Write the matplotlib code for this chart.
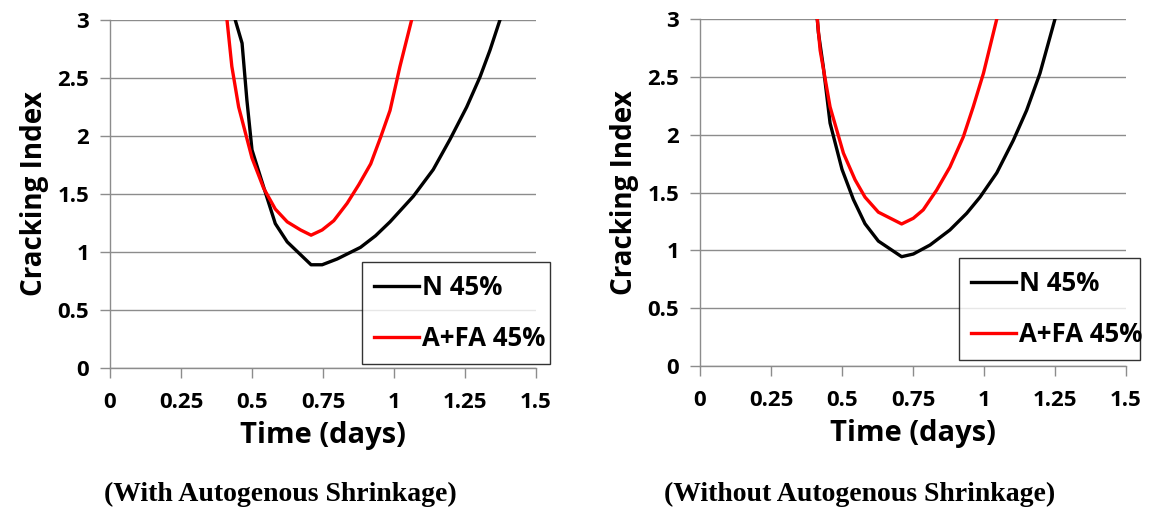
import numpy as np
import matplotlib
matplotlib.use("Agg")
import matplotlib.pyplot as plt

# cracking index vs time
# left panel: with autogenous shrinkage
t_n_with = [0.441, 0.465, 0.482, 0.50, 0.541, 0.582, 0.624, 0.708, 0.747, 0.80, 0.882, 0.935, 0.986, 1.068, 1.138, 1.197, 1.256, 1.303, 1.338, 1.373]
ci_n_with = [3.0, 2.80, 2.31, 1.88, 1.56, 1.245, 1.087, 0.89, 0.89, 0.94, 1.04, 1.14, 1.26, 1.48, 1.71, 1.97, 2.25, 2.51, 2.74, 3.0]
t_a_with = [0.412, 0.429, 0.453, 0.50, 0.541, 0.582, 0.624, 0.671, 0.708, 0.747, 0.788, 0.835, 0.876, 0.918, 0.953, 0.986, 1.021, 1.062]
ci_a_with = [3.0, 2.60, 2.25, 1.81, 1.55, 1.37, 1.26, 1.19, 1.145, 1.19, 1.27, 1.42, 1.58, 1.76, 1.99, 2.22, 2.60, 3.0]

# right panel: without autogenous shrinkage
t_n_wo = [0.413, 0.417, 0.434, 0.458, 0.50, 0.54, 0.581, 0.628, 0.710, 0.751, 0.81, 0.88, 0.939, 0.986, 1.045, 1.103, 1.150, 1.197, 1.25]
ci_n_wo = [3.0, 2.88, 2.59, 2.10, 1.70, 1.44, 1.23, 1.08, 0.945, 0.968, 1.046, 1.176, 1.32, 1.46, 1.67, 1.95, 2.21, 2.53, 3.0]
t_a_wo = [0.413, 0.423, 0.458, 0.505, 0.546, 0.581, 0.628, 0.710, 0.751, 0.786, 0.833, 0.880, 0.927, 0.962, 0.998, 1.045]
ci_a_wo = [3.0, 2.73, 2.24, 1.84, 1.61, 1.46, 1.33, 1.228, 1.277, 1.35, 1.52, 1.72, 1.98, 2.24, 2.53, 3.0]

xticks = [0, 0.25, 0.5, 0.75, 1, 1.25, 1.5]
xtick_labels = ["0", "0.25", "0.5", "0.75", "1", "1.25", "1.5"]
yticks = [0, 0.5, 1, 1.5, 2, 2.5, 3]
ytick_labels = ["0", "0.5", "1", "1.5", "2", "2.5", "3"]
captions = ["With Autogenous Shrinkage", "Without Autogenous Shrinkage"]

sans = ["Open Sans", "DejaVu Sans"]
serif = ["Liberation Serif", "DejaVu Serif"]
plt.rcParams["font.family"] = sans
plt.rcParams["font.weight"] = "bold"
plt.rcParams["axes.labelweight"] = "bold"
plt.rcParams["xtick.labelsize"] = 16
plt.rcParams["ytick.labelsize"] = 16

W, H = 1150, 511
fig = plt.figure(figsize=(W / 100, H / 100), dpi=100)

panels = [
    ((110, 20, 536, 368), t_n_with, ci_n_with, t_a_with, ci_a_with, (362, 257, 550, 364), 280),
    ((700, 19, 1126, 366), t_n_wo, ci_n_wo, t_a_wo, ci_a_wo, (959, 255, 1140, 360), 860),
]

for k, (box, tn, cn, ta, ca, lbox, cx) in enumerate(panels):
    x0, y0, x1, y1 = box
    ax = fig.add_axes([x0 / W, 1 - y1 / H, (x1 - x0) / W, (y1 - y0) / H])
    ax.plot(tn, cn, color="black", lw=2.4, label="N 45%")
    ax.plot(ta, ca, color="#ff0000", lw=2.4, label="A+FA 45%")
    ax.set_xlim(0, 1.5)
    ax.set_ylim(0, 3)
    ax.yaxis.grid(True, color="#8c8c8c", lw=1.0)
    ax.set_axisbelow(True)
    for s in ["top", "right"]:
        ax.spines[s].set_visible(False)
    for s in ["left", "bottom"]:
        ax.spines[s].set_color("#8c8c8c")
        ax.spines[s].set_linewidth(1.0)
    ax.set_xticks(xticks)
    ax.set_xticklabels(xtick_labels)
    ax.set_yticks(yticks)
    ax.set_yticklabels(ytick_labels)
    ax.tick_params(axis="both", direction="out", color="#8c8c8c", length=7, width=1.0, labelsize=16)
    ax.tick_params(axis="x", pad=10)
    ax.tick_params(axis="y", pad=8)
    for lab in ax.get_xticklabels() + ax.get_yticklabels():
        lab.set_fontsize(16)
        lab.set_fontweight("bold")
    ax.set_xlabel("Time (days)", fontsize=21, fontweight="bold", labelpad=6)
    ax.set_ylabel("Cracking Index", fontsize=20, fontweight="bold", labelpad=6)

    lx0, ly0, lx1, ly1 = lbox
    leg = fig.legend(handles=ax.get_lines(), loc="lower left",
                     bbox_to_anchor=(lx0 / W, 1 - ly1 / H, (lx1 - lx0) / W, (ly1 - ly0) / H),
                     mode="expand", frameon=True, fancybox=False, handlelength=1.75,
                     handletextpad=0.15, labelspacing=0.95, borderaxespad=0, borderpad=0.45,
                     prop={"weight": "bold", "size": 18.5})
    leg.get_frame().set_edgecolor("black")
    leg.get_frame().set_linewidth(1.0)

    fig.text(cx / W, 1 - 494 / H, "(" + captions[k] + ")", ha="center", va="center",
             fontfamily=serif, fontweight="bold", fontsize=20)

fig.savefig("out.png", dpi=100)
